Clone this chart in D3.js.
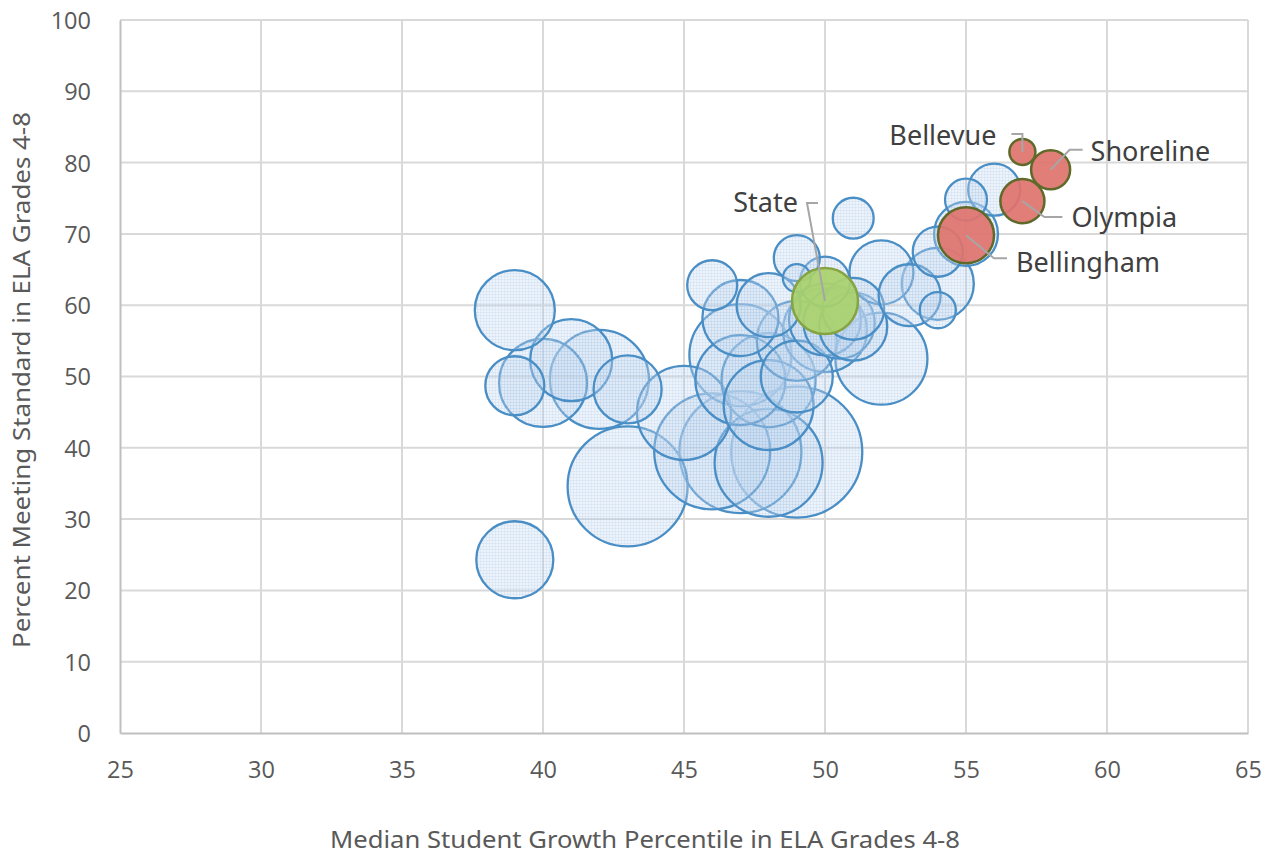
<!DOCTYPE html>
<html>
<head>
<meta charset="utf-8">
<script src="https://cdn.jsdelivr.net/npm/d3@7"></script>
<style>
  html, body { margin: 0; padding: 0; background: #ffffff; }
  svg { display: block; }
</style>
</head>
<body>
<svg id="chart" width="1270" height="856"></svg>
<script>
// ---------------- DATA ----------------
// Districts (blue bubbles): median SGP (x), percent meeting standard (y), size (enrollment, thousands)
const districtSGP  = [39, 39, 39, 40, 41, 42, 43, 43,
                      45, 46, 47, 48, 49,
                      46, 47, 47, 47, 48, 48, 48, 49, 49, 49, 49, 50, 50, 50, 50.5, 51, 51, 51, 52, 52, 53, 54, 54, 54, 55, 55, 56];
const districtPct  = [59.3, 24.3, 48.7, 49.1, 52.3, 49.6, 48.2, 34.6,
                      44.9, 39.5, 39.4, 37.9, 39.4,
                      62.8, 58.2, 53.0, 49.5, 49.5, 46.0, 60.0, 50.0, 55.0, 66.6, 63.8, 63.3, 56.5, 58.0, 57.5, 72.2, 57.0, 59.5, 64.6, 52.5, 61.4, 63.0, 59.3, 67.5, 74.8, 70.0, 76.2];
const districtSize = [37.9, 35.1, 20.6, 45.8, 39.8, 58.0, 27.4, 85.2,
                      52.3, 79.6, 88.1, 69.0, 101.5,
                      14.8, 34.2, 61.6, 47.9, 52.3, 47.9, 24.2, 30.7, 37.9, 12.5, 4.6, 14.8, 41.8, 30.7, 30.0, 9.9, 27.4, 22.7, 24.2, 50.1, 22.7, 30.7, 7.7, 14.8, 10.4, 24.2, 16.0];

// Highlighted districts (red bubbles)
const highlightNames = ["Bellevue", "Shoreline", "Olympia", "Bellingham"];
const highlightSGP   = [57, 58, 57, 55];
const highlightPct   = [81.5, 79.0, 74.6, 69.8];
const highlightSize  = [4.0, 9.0, 11.5, 18.6];

// State (green bubble)
const stateName = ["State"];
const stateSGP  = [50];
const statePct  = [60.6];
const stateSize = [25.8];

// Axis ticks
const xTicks = [25, 30, 35, 40, 45, 50, 55, 60, 65];
const yTicks = [0, 10, 20, 30, 40, 50, 60, 70, 80, 90, 100];
const xTitle = "Median Student Growth Percentile in ELA Grades 4-8";
const yTitle = "Percent Meeting Standard in ELA Grades 4-8";

// ---------------- LAYOUT ----------------
const svg = d3.select("#chart");
const plot = { left: 120, right: 1248, top: 20, bottom: 733 };

const x = d3.scaleLinear().domain([25, 65]).range([plot.left, plot.right]);
const y = d3.scaleLinear().domain([0, 100]).range([plot.bottom, plot.top]);
const r = d3.scaleSqrt().domain([0, 100]).range([0, 65]);

const tickFont = "'Open Sans', 'Noto Sans', sans-serif";
const textGray = "#595959";

// subtle textures (pattern fills)
const defs = svg.append("defs");
function texture(id, bg, line, op) {
  const p = defs.append("pattern").attr("id", id).attr("patternUnits", "userSpaceOnUse")
    .attr("width", 3).attr("height", 3);
  p.append("rect").attr("width", 3).attr("height", 3).attr("fill", bg).attr("fill-opacity", op);
  p.append("path").attr("d", "M0,0.5H3M0.5,0V3").attr("stroke", line).attr("stroke-width", 1)
    .attr("stroke-opacity", op * 0.6);
}
texture("blueTex", "#c3d9ef", "#9fc1e6", 0.3);

// gridlines
const grid = svg.append("g");
grid.selectAll("line.h").data(yTicks.filter(d => d > 0)).join("line")
  .attr("x1", plot.left).attr("x2", plot.right)
  .attr("y1", d => y(d)).attr("y2", d => y(d))
  .attr("stroke", "#d9d9d9").attr("stroke-width", 2);
grid.selectAll("line.v").data(xTicks.filter(d => d > 25)).join("line")
  .attr("y1", plot.top).attr("y2", plot.bottom)
  .attr("x1", d => x(d)).attr("x2", d => x(d))
  .attr("stroke", "#d9d9d9").attr("stroke-width", 2);

// axes (D3 axis generators, styled)
const xAxis = svg.append("g").attr("transform", `translate(0,${plot.bottom})`)
  .call(d3.axisBottom(x).tickValues(xTicks).tickSize(0).tickPadding(28).tickFormat(d3.format("d")));
const yAxis = svg.append("g").attr("transform", `translate(${plot.left},0)`)
  .call(d3.axisLeft(y).tickValues(yTicks).tickSize(0).tickPadding(29).tickFormat(d3.format("d")));
[xAxis, yAxis].forEach(g => {
  g.select(".domain").attr("stroke", "#bfbfbf").attr("stroke-width", 2);
  g.selectAll("text").attr("fill", textGray).attr("font-family", tickFont).attr("font-size", 23.5);
});
yAxis.selectAll("text").attr("dy", "0.36em");

// ---------------- BUBBLES ----------------
const blue = districtSGP.map((v, i) => ({ sgp: v, pct: districtPct[i], size: districtSize[i] }))
  .sort((a, b) => b.size - a.size);

svg.append("g").selectAll("circle").data(blue).join("circle")
  .attr("cx", d => x(d.sgp)).attr("cy", d => y(d.pct)).attr("r", d => r(d.size))
  .attr("fill", "url(#blueTex)")
  .attr("stroke", "#4a8ec6").attr("stroke-width", 2.3);

const red = highlightNames.map((n, i) => ({ name: n, sgp: highlightSGP[i], pct: highlightPct[i], size: highlightSize[i] }));
const state = stateName.map((n, i) => ({ name: n, sgp: stateSGP[i], pct: statePct[i], size: stateSize[i] }));

svg.append("g").selectAll("circle").data(state).join("circle")
  .attr("cx", d => x(d.sgp)).attr("cy", d => y(d.pct)).attr("r", d => r(d.size))
  .attr("fill", "#a9d16b").attr("fill-opacity", 0.92)
  .attr("stroke", "#86a344").attr("stroke-width", 2.5);

svg.append("g").selectAll("circle").data(red).join("circle")
  .attr("cx", d => x(d.sgp)).attr("cy", d => y(d.pct)).attr("r", d => r(d.size))
  .attr("fill", "#e0736d").attr("fill-opacity", 0.92)
  .attr("stroke", "#5f6a2a").attr("stroke-width", 2.5);

// ---------------- LABELS ----------------
// leader line bends and label anchors relative to bubble centre (layout only)
const labelLayout = {
  "State":      { pts: [[-18, -98], [-7, -98]], tx: -27, ty: -98, anchor: "end" },
  "Bellevue":   { pts: [[0, -18], [-11, -18]], tx: -26, ty: -16, anchor: "end" },
  "Shoreline":  { pts: [[19, -20], [32, -20]], tx: 40, ty: -18, anchor: "start" },
  "Olympia":    { pts: [[22, 16], [40, 16]], tx: 49, ty: 16, anchor: "start" },
  "Bellingham": { pts: [[28, 23], [41, 23]], tx: 50, ty: 27, anchor: "start" }
};
const labelled = state.concat(red);
const lg = svg.append("g");
labelled.forEach(d => {
  const L = labelLayout[d.name];
  const cx = x(d.sgp), cy = y(d.pct);
  const pts = [[cx, cy]].concat(L.pts.map(p => [cx + p[0], cy + p[1]]));
  lg.append("path").attr("d", d3.line()(pts))
    .attr("fill", "none").attr("stroke", "#a6a6a6").attr("stroke-width", 2);
  lg.append("text").attr("x", cx + L.tx).attr("y", cy + L.ty).attr("dy", "0.35em")
    .attr("text-anchor", L.anchor)
    .attr("font-family", "'Noto Sans', sans-serif").attr("font-size", 27)
    .attr("fill", "#404040").text(d.name);
});

// ---------------- AXIS TITLES ----------------
svg.append("text").attr("x", 645).attr("y", 840).attr("dy", "0.35em")
  .attr("text-anchor", "middle").attr("font-family", "'Noto Sans', sans-serif")
  .attr("font-size", 24).attr("fill", textGray)
  .attr("textLength", 630).attr("lengthAdjust", "spacingAndGlyphs").text(xTitle);
svg.append("text").attr("transform", "translate(22,380) rotate(-90)").attr("dy", "0.35em")
  .attr("text-anchor", "middle").attr("font-family", "'Noto Sans', sans-serif")
  .attr("font-size", 24).attr("fill", textGray)
  .attr("textLength", 536).attr("lengthAdjust", "spacingAndGlyphs").text(yTitle);
</script>
</body>
</html>
